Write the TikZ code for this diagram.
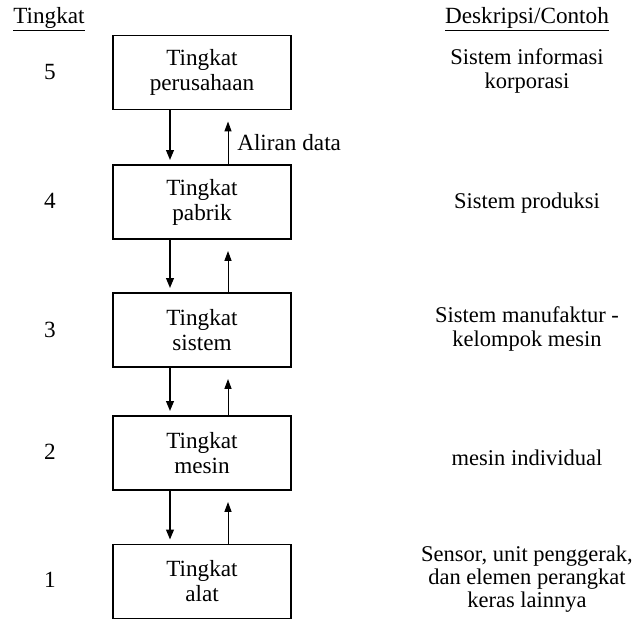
\documentclass[tikz,border=0pt]{standalone}
\usepackage{fontspec}
\setmainfont{Liberation Serif}
\usetikzlibrary{arrows.meta,positioning}
\newcommand{\boxfont}{\fontsize{16.5}{17.8}\selectfont}
\newcommand{\descfont}{\fontsize{16}{16.6}\selectfont}
\tikzset{
    levelbox/.style={draw, line width=1.1pt, minimum width=4.45cm, minimum height=1.85cm,
        align=center, inner sep=0pt, font=\boxfont},
    desc/.style={align=center, inner sep=0pt, font=\descfont},
    num/.style={inner sep=0pt, font=\boxfont},
    godown/.style={-{Triangle[length=7pt,width=5.5pt]}, line width=1pt, shorten >=3pt},
    goup/.style={-{Triangle[length=7pt,width=5pt]}, line width=0.7pt, shorten >=8pt},
}

\begin{document}
\begin{tikzpicture}[x=0.025cm, y=-0.025cm]
    \useasboundingbox (0,0) rectangle (638,622);
    %headers
        \node[num] (hlevel) at (49,19) {\underline{Tingkat}};
        \node[num] (hdesc) at (527,19) {\underline{Deskripsi/Contoh}};
    %level boxes
        \node[levelbox] (lvl5) at (202,72.5) {Tingkat\\perusahaan};
        \node[levelbox] (lvl4) at (202,202) {Tingkat\\pabrik};
        \node[levelbox] (lvl3) at (202,330) {Tingkat\\sistem};
        \node[levelbox] (lvl2) at (202,453) {Tingkat\\mesin};
        \node[levelbox] (lvl1) at (202,581.5) {Tingkat\\alat};
    %level numbers
        \foreach \i/\y in {5/72,4/201,3/330,2/452,1/580} {
            \node[num] (n\i) at (50,\y) {\i};
        }
    %descriptions
        \node[desc] (d5) at (527,71) {Sistem informasi\\korporasi};
        \node[desc] (d4) at (527,203) {Sistem produksi};
        \node[desc] (d3) at (527,329) {Sistem manufaktur -\\kelompok mesin};
        \node[desc] (d2) at (527,458) {mesin individual};
        \node[desc] (d1) at (527,579) {Sensor, unit penggerak,\\dan elemen perangkat\\keras lainnya};
    %arrows between levels
        \foreach \u/\l in {5/4,4/3,3/2,2/1} {
            \draw[godown] ([xshift=-0.8cm]lvl\u.south) -- ([xshift=-0.8cm]lvl\l.north);
            \draw[goup] ([xshift=0.65cm]lvl\l.north) -- ([xshift=0.65cm]lvl\u.south);
        }
        \node[num, anchor=west] (flow) at (237,143) {Aliran data};
\end{tikzpicture}
\end{document}
